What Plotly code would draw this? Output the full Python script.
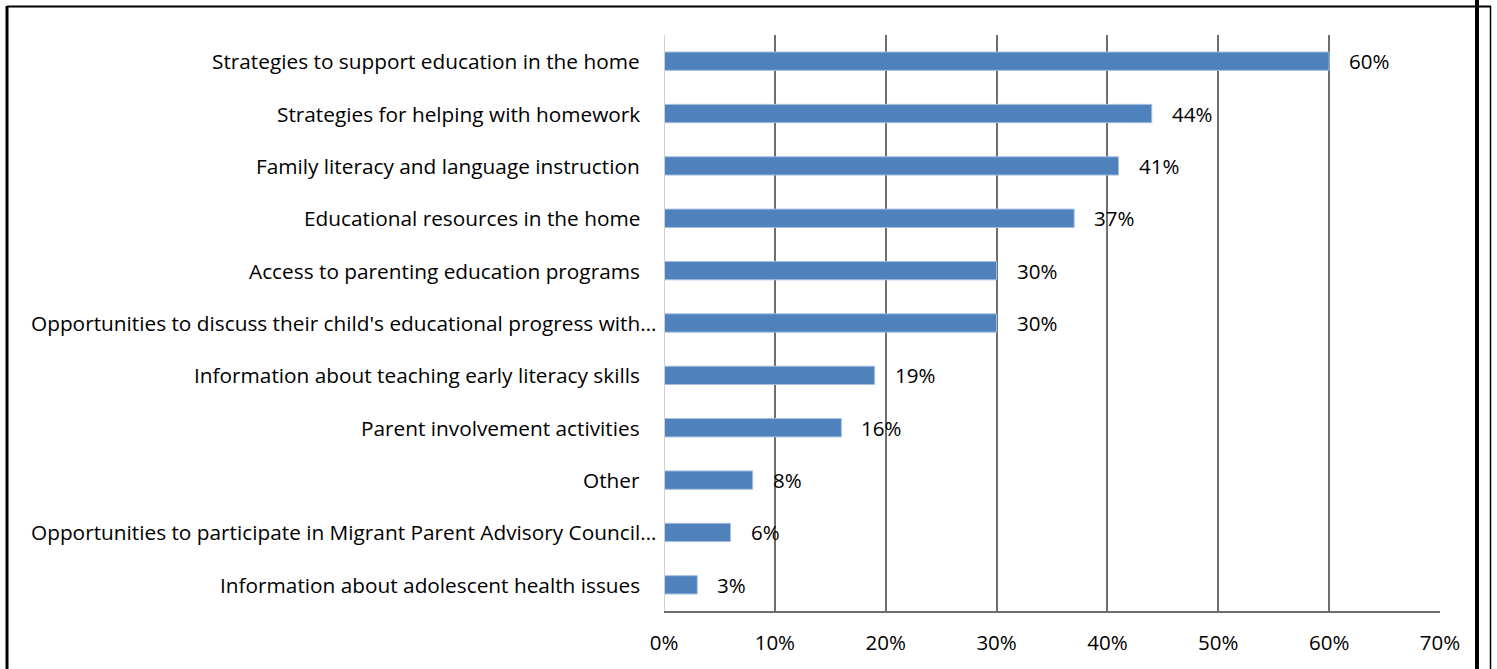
import plotly.graph_objects as go

# Survey categories, listed top to bottom as drawn
categories = [
    "Strategies to support education in the home",
    "Strategies for helping with homework",
    "Family literacy and language instruction",
    "Educational resources in the home",
    "Access to parenting education programs",
    "Opportunities to discuss their child's educational progress with\u2026",
    "Information about teaching early literacy skills",
    "Parent involvement activities",
    "Other",
    "Opportunities to participate in Migrant Parent Advisory Council\u2026",
    "Information about adolescent health issues",
]
percents = [60, 44, 41, 37, 30, 30, 19, 16, 8, 6, 3]
tick_values = [0, 10, 20, 30, 40, 50, 60, 70]
tick_labels = ["0%", "10%", "20%", "30%", "40%", "50%", "60%", "70%"]

W, H = 1497, 669
ML, MR, MT, MB = 664, 57, 35, 58
PW, PH = W - ML - MR, H - MT - MB


def px_x(x):
    return (x - ML) / PW


def px_y(y):
    return (H - MB - y) / PH


FONT = "Open Sans, Noto Sans, sans-serif"
FS = 20.5
CAT_FS = 20.8

fig = go.Figure(
    go.Bar(
        x=percents,
        y=categories,
        orientation="h",
        width=0.35,
        marker=dict(color="#4f81bd", line=dict(color="#a5bfdf", width=1)),
        hoverinfo="skip",
    )
)

# Value labels to the right of each bar
for cat, v in zip(categories, percents):
    fig.add_annotation(
        x=v, y=cat, xref="x", yref="y",
        text=f"{v}%", showarrow=False,
        xanchor="left", yanchor="middle", xshift=18,
        font=dict(family=FONT, size=FS, color="#000000"),
    )

# Category labels, right-aligned against the value axis;
# truncated labels run a little further toward the axis
for cat in categories:
    fig.add_annotation(
        x=0, y=cat, xref="paper", yref="y",
        text=cat, showarrow=False,
        xanchor="right", yanchor="middle",
        xshift=-6 if cat.endswith("\u2026") else -22,
        font=dict(family=FONT, size=CAT_FS, color="#000000"),
    )

fig.update_layout(
    width=W,
    height=H,
    margin=dict(l=ML, r=MR, t=MT, b=MB, pad=0),
    paper_bgcolor="white",
    plot_bgcolor="white",
    showlegend=False,
    font=dict(family=FONT, size=FS, color="#000000"),
)

fig.update_xaxes(
    range=[0, 70],
    tickvals=tick_values,
    ticktext=tick_labels,
    showgrid=True,
    gridcolor="#6e6e6e",
    gridwidth=2,
    zeroline=False,
    showline=True,
    linecolor="#6e6e6e",
    linewidth=2,
    ticks="",
    ticklen=0,
    tickfont=dict(family=FONT, size=FS, color="#000000"),
    ticklabelstandoff=12,
    fixedrange=True,
)

fig.update_yaxes(
    categoryorder="array",
    categoryarray=categories[::-1],
    autorange=False,
    range=[-0.5, len(categories) - 0.5],
    showgrid=False,
    zeroline=False,
    showline=False,
    showticklabels=False,
    ticks="",
    fixedrange=True,
)

# Light value axis at 0%
fig.add_shape(type="line", xref="x", yref="paper", x0=0, x1=0, y0=0, y1=1,
              line=dict(color="#d0d0d0", width=2))

# Page frame lines around the chart
fig.add_shape(type="line", xref="paper", yref="paper",
              x0=px_x(7), x1=px_x(1491), y0=px_y(6.5), y1=px_y(6.5),
              line=dict(color="black", width=2))
fig.add_shape(type="line", xref="paper", yref="paper",
              x0=px_x(7), x1=px_x(7), y0=px_y(6), y1=px_y(H + 5),
              line=dict(color="black", width=3))
fig.add_shape(type="line", xref="paper", yref="paper",
              x0=px_x(1477), x1=px_x(1477), y0=px_y(-5), y1=px_y(H + 5),
              line=dict(color="black", width=4))
fig.add_shape(type="line", xref="paper", yref="paper",
              x0=px_x(1490.5), x1=px_x(1490.5), y0=px_y(6), y1=px_y(H + 5),
              line=dict(color="black", width=1.5))

fig.write_html("out.html")
